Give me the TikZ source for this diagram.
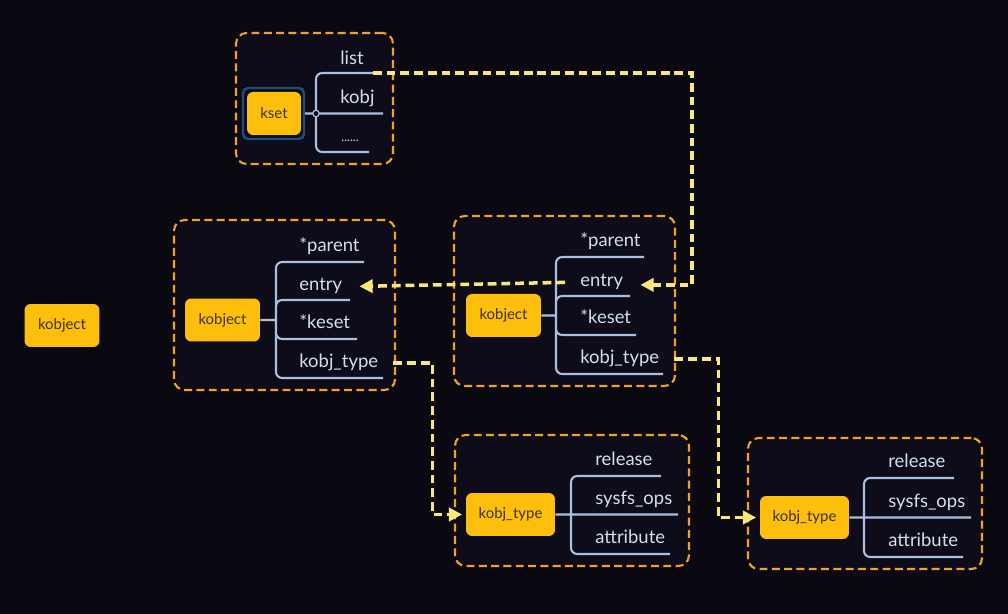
\documentclass[tikz,border=0pt]{standalone}
\usepackage{fontspec}
\setmainfont{Lato}
\usetikzlibrary{arrows.meta}
\definecolor{bgcol}{HTML}{0A0811}
\definecolor{boxcol}{HTML}{0D0C18}
\definecolor{amber}{HTML}{FDBF0C}
\definecolor{nodetext}{HTML}{3B3219}
\definecolor{dashorange}{HTML}{F2A126}
\definecolor{refyellow}{HTML}{F9E77C}
\definecolor{treeblue}{HTML}{A9C0E2}
\definecolor{fieldtext}{HTML}{D2DEF2}
\definecolor{ksetblue}{HTML}{1F4E78}

\begin{document}
\begin{tikzpicture}[x=0.02cm, y=-0.02cm,
				    group/.style={draw=dashorange, line width=1.2pt, dash pattern=on 4.5pt off 2.5pt,
				    			  rounded corners=6pt, fill=boxcol},
				    obj/.style={fill=amber, rounded corners=3.5pt, text=nodetext, inner sep=0pt,
				    			font=\fontsize{8.5}{10}\selectfont, minimum width=1.5cm, minimum height=0.86cm},
				    typ/.style={obj, minimum width=1.78cm},
				    field/.style={anchor=base west, inner sep=0pt, text=fieldtext,
				    			  font=\fontsize{10.5}{12}\selectfont},
				    branch/.style={draw=treeblue, line width=1.2pt, rounded corners=3.5pt},
				    ref/.style={draw=refyellow, line width=2pt, dash pattern=on 5pt off 2.8pt,
				    			-{Triangle[length=7.5pt, width=7.5pt]}}]
	\fill[bgcol] (0,0) rectangle (1008,614);

	% groups
	\node[group, minimum width=3.14cm, minimum height=2.62cm] (gk) at (314.5, 98.5) {};
	\node[group, minimum width=4.42cm, minimum height=3.40cm] (g1) at (284.5, 305) {};
	\node[group, minimum width=4.42cm, minimum height=3.40cm] (g2) at (564.5, 301) {};
	\node[group, minimum width=4.68cm, minimum height=2.62cm] (g3) at (572, 500.5) {};
	\node[group, minimum width=4.68cm, minimum height=2.62cm] (g4) at (865, 503.5) {};

	% objects
	\node[obj] (n0) at (62, 325.5) {kobject};
	\node[draw=ksetblue, line width=1.4pt, rounded corners=3pt,
		  minimum width=1.22cm, minimum height=1.02cm] (nkf) at (273.5, 113.5) {};
	\node[obj, minimum width=1.08cm] (nk) at (274, 113.5) {kset};
	\node[obj] (n1) at (222.5, 320) {kobject};
	\node[obj] (n2) at (503.5, 315.5) {kobject};
	\node[typ] (n3) at (510.5, 514.5) {kobj\_type};
	\node[typ] (n4) at (804.5, 517.5) {kobj\_type};

	% fields
	\node[field] (k1) at (340, 65) {list};
	\node[field] (k2) at (340, 104) {kobj};
	\node[field, font=\fontsize{7}{8}\selectfont] (k3) at (341, 142) {......};
	\node[field] (p1) at (299, 252) {*parent};
	\node[field] (e1) at (299, 291) {entry};
	\node[field] (s1) at (299, 329) {*keset};
	\node[field] (t1) at (299, 368) {kobj\_type};
	\node[field] (p2) at (580, 247) {*parent};
	\node[field] (e2) at (580, 287) {entry};
	\node[field] (s2) at (580, 324) {*keset};
	\node[field] (t2) at (580, 364) {kobj\_type};
	\node[field] (r3) at (595, 466) {release};
	\node[field] (o3) at (595, 505) {sysfs\_ops};
	\node[field] (a3) at (595, 544) {attribute};
	\node[field] (r4) at (888, 468) {release};
	\node[field] (o4) at (888, 508) {sysfs\_ops};
	\node[field] (a4) at (888, 547) {attribute};

	% tree ends
	\coordinate (jk) at (316, 113.5);
	\coordinate (k1u) at (373, 73);
	\coordinate (k2u) at (383, 113.5);
	\coordinate (k3u) at (369, 152);
	\coordinate (j1) at (276, 320);
	\coordinate (p1u) at (364, 262);
	\coordinate (e1u) at (350, 300);
	\coordinate (s1u) at (357, 339);
	\coordinate (t1u) at (383, 378);
	\coordinate (j2) at (556, 315.5);
	\coordinate (p2u) at (644, 257);
	\coordinate (e2u) at (630, 296);
	\coordinate (s2u) at (636, 335);
	\coordinate (t2u) at (663, 374);
	\coordinate (j3) at (571, 514.5);
	\coordinate (r3u) at (661, 476);
	\coordinate (o3u) at (678, 514.5);
	\coordinate (a3u) at (670, 554);
	\coordinate (j4) at (864, 517.5);
	\coordinate (r4u) at (954, 478);
	\coordinate (o4u) at (971, 517.5);
	\coordinate (a4u) at (963, 557);

	\draw[branch] (nkf) -- (jk)  (jk) |- (k1u)  (jk) -- (k2u)  (jk) |- (k3u);
	\draw[branch] (n1) -- (j1)  (j1) |- (p1u)  (j1) |- (e1u)  (j1) |- (s1u)  (j1) |- (t1u);
	\draw[branch] (n2) -- (j2)  (j2) |- (p2u)  (j2) |- (e2u)  (j2) |- (s2u)  (j2) |- (t2u);
	\draw[branch] (n3) -- (j3)  (j3) |- (r3u)  (j3) -- (o3u)  (j3) |- (a3u);
	\draw[branch] (n4) -- (j4)  (j4) |- (r4u)  (j4) -- (o4u)  (j4) |- (a4u);
	\node[circle, draw=treeblue, fill=boxcol, line width=0.7pt, inner sep=0pt,
		  minimum size=0.13cm] (jdot) at (jk) {};

	% references
	\draw[ref] (k1u) -- ++(319,0) |- ([xshift=0.34cm, yshift=-0.05cm]e2.east);
	\draw[ref] ([xshift=-0.3cm]e2.west) -- ([xshift=0.34cm]e1.east);
	\draw[ref, shorten >=2pt] ([xshift=0.3cm]t1.east) -- ++(39,0) |- (n3.west);
	\draw[ref, shorten >=2pt] ([xshift=0.3cm]t2.east) -- ++(44,0) |- (n4.west);

\end{tikzpicture}
\end{document}
